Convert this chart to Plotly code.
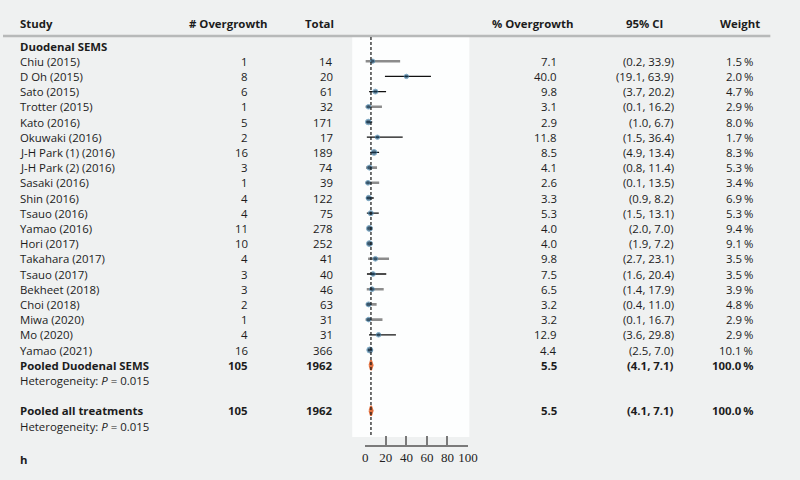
import plotly.graph_objects as go

# study level data
studies = ["Chiu (2015)", "D Oh (2015)", "Sato (2015)", "Trotter (2015)", "Kato (2016)",
           "Okuwaki (2016)", "J-H Park (1) (2016)", "J-H Park (2) (2016)", "Sasaki (2016)",
           "Shin (2016)", "Tsauo (2016)", "Yamao (2016)", "Hori (2017)", "Takahara (2017)",
           "Tsauo (2017)", "Bekheet (2018)", "Choi (2018)", "Miwa (2020)", "Mo (2020)",
           "Yamao (2021)"]
events = [1, 8, 6, 1, 5, 2, 16, 3, 1, 4, 4, 11, 10, 4, 3, 3, 2, 1, 4, 16]
totals = [14, 20, 61, 32, 171, 17, 189, 74, 39, 122, 75, 278, 252, 41, 40, 46, 63, 31, 31, 366]
pct = [7.1, 40.0, 9.8, 3.1, 2.9, 11.8, 8.5, 4.1, 2.6, 3.3, 5.3, 4.0, 4.0, 9.8, 7.5, 6.5, 3.2, 3.2, 12.9, 4.4]
ci_lo = [0.2, 19.1, 3.7, 0.1, 1.0, 1.5, 4.9, 0.8, 0.1, 0.9, 1.5, 2.0, 1.9, 2.7, 1.6, 1.4, 0.4, 0.1, 3.6, 2.5]
ci_hi = [33.9, 63.9, 20.2, 16.2, 6.7, 36.4, 13.4, 11.4, 13.5, 8.2, 13.1, 7.0, 7.2, 23.1, 20.4, 17.9, 11.0, 16.7, 29.8, 7.0]
weights = [1.5, 2.0, 4.7, 2.9, 8.0, 1.7, 8.3, 5.3, 3.4, 6.9, 5.3, 9.4, 9.1, 3.5, 3.5, 3.9, 4.8, 2.9, 2.9, 10.1]

# pooled rows
pooled_labels = ["Pooled Duodenal SEMS", "Pooled all treatments"]
pooled_events = [105, 105]
pooled_totals = [1962, 1962]
pooled_pct = [5.5, 5.5]
pooled_lo = [4.1, 4.1]
pooled_hi = [7.1, 7.1]
pooled_weight = [100.0, 100.0]
het_text = "Heterogeneity: <i>P</i> = 0.015"

headers = ["Study", "# Overgrowth", "Total", "% Overgrowth", "95% CI", "Weight"]
xticks = [0, 20, 40, 60, 80, 100]

# line style per study (grey or black CI)
grey_rows = {0, 3, 7, 8, 11, 12, 13, 15, 16, 17}

BG = "#eff1f1"
TXT = "#1c1c1c"
FONT = "Open Sans"
FS = 11.4

study_rows = list(range(1, 21))
pooled_rows = [21, 24]
het_rows = [22, 25]

fig = go.Figure()

# CI lines
for grey in (True, False):
    xs, ys = [], []
    for i, r in enumerate(study_rows):
        if (i in grey_rows) == grey:
            xs += [ci_lo[i], ci_hi[i], None]
            ys += [r, r, None]
    fig.add_trace(go.Scatter(
        x=xs, y=ys, mode="lines", cliponaxis=False, hoverinfo="skip",
        line=dict(color="#8c8c8c" if grey else "#111111", width=2.6 if grey else 1.3),
        showlegend=False))

# point estimates
fig.add_trace(go.Scatter(
    x=pct, y=study_rows, mode="markers", cliponaxis=False,
    marker=dict(color="#173f5c", size=[4 + w * 0.2 for w in weights],
                line=dict(color="#4f8db5", width=1)),
    showlegend=False))

# pooled diamonds
for k, r in enumerate(pooled_rows):
    fig.add_trace(go.Scatter(
        x=[pooled_lo[k], pooled_pct[k], pooled_hi[k], pooled_pct[k], pooled_lo[k]],
        y=[r, r - 0.32, r, r + 0.32, r], mode="lines", fill="toself",
        fillcolor="#e0703f", line=dict(color="#e0703f", width=2),
        cliponaxis=False, showlegend=False))

col_x = [15 / 800, 251 / 800, 337 / 800, 565 / 800, 684 / 800, 764 / 800]
head_x = [15 / 800, 271 / 800, 338 / 800, 582 / 800, 673 / 800, 772 / 800]

shapes = [
    # white panel
    dict(type="rect", xref="paper", yref="y", x0=355 / 800, x1=474 / 800, y0=-0.59, y1=25.72,
         fillcolor="#fdfefe", line=dict(width=0), layer="below"),
    # header rule
    dict(type="line", xref="paper", yref="y", x0=0, x1=780 / 800, y0=-0.66, y1=-0.66,
         line=dict(color="#b7b9b9", width=2.5)),
    # reference line at pooled estimate
    dict(type="line", xref="x", yref="y", x0=pooled_pct[0], x1=pooled_pct[0], y0=-0.59, y1=25.72,
         line=dict(color="#111111", width=1.2, dash="3px,2px")),
]

annotations = []


def txt(x, y, s, anchor="right", bold=False):
    annotations.append(dict(
        x=x, y=y, xref="paper", yref="y", text=f"<b>{s}</b>" if bold else s,
        showarrow=False, xanchor=anchor, yanchor="middle",
        font=dict(family=FONT, size=FS, color=TXT)))


for j, h in enumerate(headers):
    txt(head_x[j], -1.45, h, "left" if j == 0 else "right", bold=True)

txt(col_x[0], 0, "Duodenal SEMS", "left", bold=True)
for i, r in enumerate(study_rows):
    txt(col_x[0], r, studies[i], "left")
    txt(col_x[1], r, str(events[i]))
    txt(col_x[2], r, str(totals[i]))
    txt(col_x[3], r, f"{pct[i]:.1f}")
    txt(col_x[4], r, f"({ci_lo[i]:.1f}, {ci_hi[i]:.1f})")
    txt(col_x[5], r, f"{weights[i]:.1f}\u2009%")

for k, r in enumerate(pooled_rows):
    txt(col_x[0], r, pooled_labels[k], "left", bold=True)
    txt(col_x[1], r, str(pooled_events[k]), bold=True)
    txt(col_x[2], r, str(pooled_totals[k]), bold=True)
    txt(col_x[3], r, f"{pooled_pct[k]:.1f}", bold=True)
    txt(col_x[4], r, f"({pooled_lo[k]:.1f}, {pooled_hi[k]:.1f})", bold=True)
    txt(col_x[5], r, f"{pooled_weight[k]:.1f}\u2009%", bold=True)
    txt(col_x[0], het_rows[k], het_text, "left")

txt(col_x[0], 27.2, "h", "left", bold=True)

fig.update_layout(
    width=800, height=480,
    margin=dict(l=0, r=0, t=0, b=0),
    paper_bgcolor=BG, plot_bgcolor="rgba(0,0,0,0)",
    shapes=shapes, annotations=annotations,
    xaxis=dict(domain=[368.3 / 800, 472.7 / 800], range=[0, 100], anchor="free",
               position=(480 - 446) / 480, tickvals=xticks, ticks="inside", ticklen=9,
               tickwidth=1.5, tickcolor="#7a7a7a", showline=True, linecolor="#7a7a7a",
               linewidth=1.5, showgrid=False, zeroline=False,
               tickfont=dict(family="Liberation Serif", size=13, color="#222222")),
    yaxis=dict(domain=[0, 1], range=[(480 - 46) / 15.2, -46 / 15.2], visible=False,
               showgrid=False, zeroline=False),
)

fig.write_html("out.html", config={"displayModeBar": False},
               post_script="document.body.style.margin='0';document.body.style.overflow='hidden';")
